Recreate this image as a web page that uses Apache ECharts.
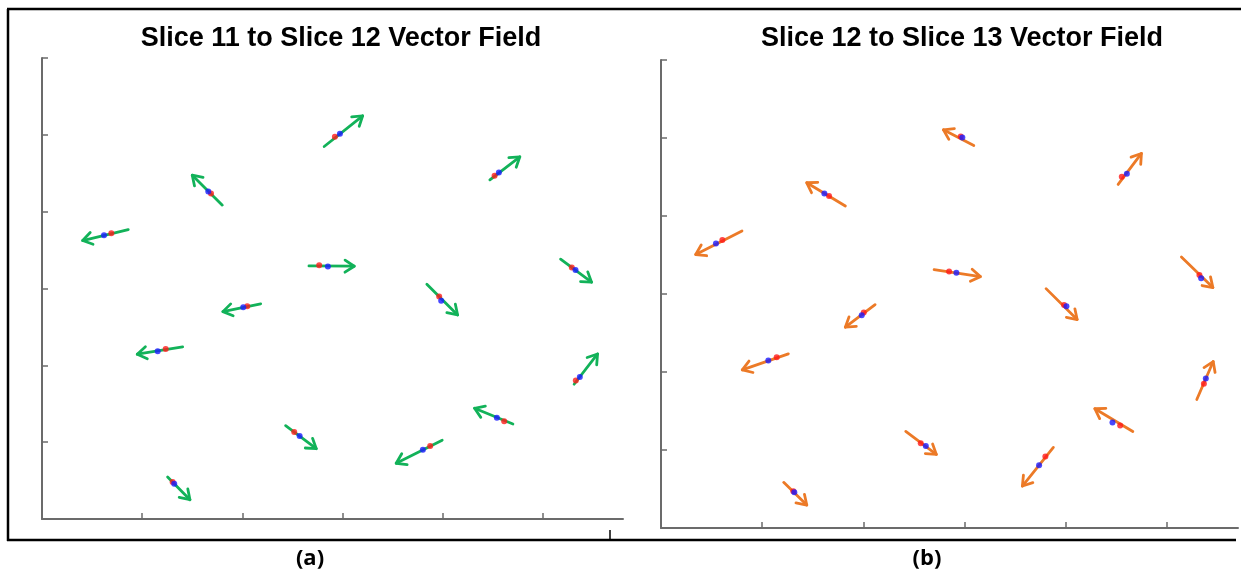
<!DOCTYPE html>
<html>
<head>
<meta charset="utf-8">
<title>Vector Field</title>
<script src="https://cdn.jsdelivr.net/npm/echarts@6/dist/echarts.min.js"></script>
<style>
  html, body { margin: 0; padding: 0; background: #ffffff; }
  #chart { width: 1241px; height: 575px; }
</style>
</head>
<body>
<div id="chart"></div>
<script>
// panel titles and captions
const titles = ['Slice 11 to Slice 12 Vector Field', 'Slice 12 to Slice 13 Vector Field']
const captions = ['(a)', '(b)']

// tick values (no labels drawn)
const xTicks = [1, 2, 3, 4, 5]
const yTicks = [1, 2, 3, 4, 5, 6]

// (a) vectors: [tailX, tailY, tipX, tipY]
const leftVectors = [
  [1.80, 4.085, 1.50, 4.475],
  [0.861, 3.767, 0.406, 3.624],
  [2.817, 4.848, 3.201, 5.247],
  [4.471, 4.414, 4.770, 4.714],
  [2.665, 3.294, 3.117, 3.290],
  [5.177, 3.382, 5.486, 3.082],
  [3.842, 3.056, 4.149, 2.656],
  [5.312, 1.754, 5.546, 2.148],
  [4.701, 1.237, 4.318, 1.441],
  [2.432, 1.215, 2.738, 0.915],
  [3.995, 1.025, 3.536, 0.725],
  [2.183, 2.800, 1.806, 2.699],
  [1.404, 2.240, 0.951, 2.145],
  [1.254, 0.547, 1.477, 0.251]
]
// (a) point positions in the two slices
const leftRed = [
  [1.687, 4.236], [0.692, 3.720], [2.924, 4.974], [4.518, 4.466], [2.767, 3.303],
  [5.289, 3.272], [3.965, 2.895], [5.329, 1.801], [4.614, 1.272], [2.518, 1.133],
  [3.875, 0.951], [2.049, 2.770], [1.235, 2.214], [1.304, 0.482]
]
const leftBlue = [
  [1.660, 4.262], [0.619, 3.694], [2.974, 5.013], [4.561, 4.509], [2.854, 3.285],
  [5.326, 3.242], [3.985, 2.842], [5.369, 1.849], [4.541, 1.319], [2.572, 1.081],
  [3.802, 0.902], [2.009, 2.757], [1.155, 2.184], [1.320, 0.460]
]

// (b) vectors: [tailX, tailY, tipX, tipY]
const rightVectors = [
  [1.821, 4.128, 1.440, 4.426],
  [0.800, 3.808, 0.343, 3.506],
  [3.090, 4.904, 2.790, 5.105],
  [4.516, 4.405, 4.746, 4.802],
  [2.698, 3.312, 3.155, 3.223],
  [5.141, 3.475, 5.452, 3.082],
  [3.804, 3.069, 4.111, 2.672],
  [2.115, 2.864, 1.821, 2.574],
  [1.258, 2.233, 0.803, 2.028],
  [2.418, 1.238, 2.720, 0.944],
  [1.212, 0.585, 1.440, 0.294],
  [5.293, 1.648, 5.455, 2.134],
  [4.661, 1.238, 4.286, 1.529],
  [3.876, 1.033, 3.570, 0.538]
]
const rightRed = [
  [1.660, 4.256], [0.606, 3.693], [2.961, 5.018], [4.552, 4.503], [2.846, 3.287],
  [5.319, 3.245], [3.982, 2.860], [2.003, 2.762], [1.143, 2.190], [2.566, 1.088],
  [1.307, 0.470], [5.363, 1.849], [4.536, 1.315], [3.797, 0.918]
]
const rightBlue = [
  [1.614, 4.289], [0.543, 3.649], [2.977, 5.006], [4.602, 4.542], [2.918, 3.274],
  [5.336, 3.201], [4.005, 2.843], [1.983, 2.727], [1.060, 2.147], [2.616, 1.050],
  [1.317, 0.457], [5.382, 1.917], [4.460, 1.353], [3.735, 0.803]
]

const chart = echarts.init(document.getElementById('chart'))

const axisColor = '#6b6b6b'

const makeX = (gridIndex, max) => ({
  type: 'value',
  gridIndex,
  min: 0,
  max,
  interval: 1,
  splitLine: { show: false },
  axisLine: { show: true, lineStyle: { color: axisColor, width: 2 } },
  axisTick: { show: true, inside: true, length: 6, customValues: xTicks, lineStyle: { color: axisColor, width: 1.5 } },
  axisLabel: { show: false }
})
const makeY = gridIndex => ({
  type: 'value',
  gridIndex,
  min: 0,
  max: 6,
  interval: 1,
  splitLine: { show: false },
  axisLine: { show: true, lineStyle: { color: axisColor, width: 2 } },
  axisTick: { show: true, inside: true, length: 6, customValues: yTicks, lineStyle: { color: axisColor, width: 1.5 } },
  axisLabel: { show: false }
})

// arrow = shaft + open V head, drawn from data coords
const arrowRender = color => (params, api) => {
  const p0 = api.coord([api.value(0), api.value(1)])
  const p1 = api.coord([api.value(2), api.value(3)])
  const ang = Math.atan2(p1[1] - p0[1], p1[0] - p0[0])
  const len = 11
  const spread = 0.58
  const h1 = [p1[0] - len * Math.cos(ang - spread), p1[1] - len * Math.sin(ang - spread)]
  const h2 = [p1[0] - len * Math.cos(ang + spread), p1[1] - len * Math.sin(ang + spread)]
  const style = { stroke: color, lineWidth: 2.8, fill: null, lineCap: 'round', lineJoin: 'round' }
  return {
    type: 'group',
    children: [
      { type: 'line', shape: { x1: p0[0], y1: p0[1], x2: p1[0], y2: p1[1] }, style },
      { type: 'polyline', shape: { points: [h1, p1, h2] }, style }
    ]
  }
}

const vectorSeries = (idx, data, color) => ({
  type: 'custom',
  xAxisIndex: idx,
  yAxisIndex: idx,
  data,
  encode: { x: [0, 2], y: [1, 3] },
  renderItem: arrowRender(color),
  silent: true,
  z: 2
})
const dotSeries = (idx, data, color) => ({
  type: 'scatter',
  xAxisIndex: idx,
  yAxisIndex: idx,
  data,
  symbolSize: 6,
  itemStyle: { color },
  silent: true,
  z: 3
})

const frame = { stroke: '#000', lineWidth: 2.5 }
const titleStyle = { fontFamily: 'Liberation Sans', fontWeight: 'bold', fontSize: 27, color: '#000' }
const captionStyle = { fontFamily: 'Open Sans', fontWeight: 'bold', fontSize: 22, color: '#000' }

const options = {
  animation: false,
  title: [
    { text: titles[0], left: 336, top: 20, textAlign: 'center', textStyle: titleStyle },
    { text: titles[1], left: 957, top: 20, textAlign: 'center', textStyle: titleStyle },
    { text: captions[0], left: 305, top: 543, textAlign: 'center', textStyle: captionStyle },
    { text: captions[1], left: 922, top: 543, textAlign: 'center', textStyle: captionStyle }
  ],
  grid: [
    { left: 42, top: 58, width: 581, height: 461 },
    { left: 661, top: 60, width: 577, height: 468 }
  ],
  xAxis: [makeX(0, 5.8), makeX(1, 5.7)],
  yAxis: [makeY(0), makeY(1)],
  series: [
    vectorSeries(0, leftVectors, '#12b259'),
    dotSeries(0, leftRed, '#ff1a1a'),
    dotSeries(0, leftBlue, '#1a1aff'),
    vectorSeries(1, rightVectors, '#ec7a27'),
    dotSeries(1, rightRed, '#ff1a1a'),
    dotSeries(1, rightBlue, '#1a1aff')
  ],
  graphic: [
    // outer frame of the figure
    { type: 'line', shape: { x1: 7, y1: 9, x2: 1241, y2: 9 }, style: frame },
    { type: 'line', shape: { x1: 8, y1: 9, x2: 8, y2: 541 }, style: frame },
    { type: 'line', shape: { x1: 7, y1: 540, x2: 1236, y2: 540 }, style: frame },
    { type: 'line', shape: { x1: 610, y1: 530, x2: 610, y2: 540 }, style: { stroke: '#000', lineWidth: 1.5 } }
  ]
}

chart.setOption(options)
window.addEventListener('resize', () => chart.resize())
</script>
</body>
</html>
